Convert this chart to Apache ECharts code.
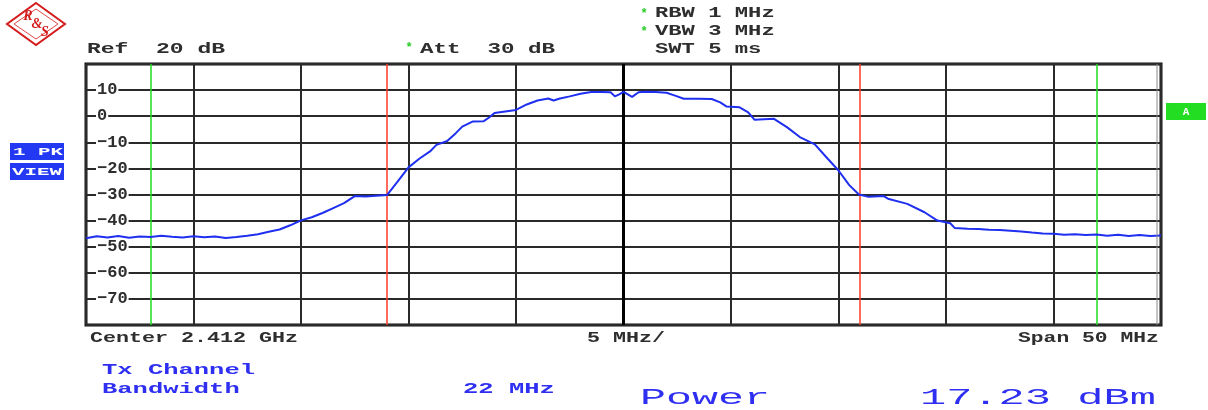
<!DOCTYPE html>
<html>
<head>
<meta charset="utf-8">
<script src="https://cdn.jsdelivr.net/npm/echarts@6/dist/echarts.min.js"></script>
<style>
html,body{margin:0;padding:0;background:#fff;}
#chart{width:1208px;height:410px;}
</style>
</head>
<body>
<div id="chart"></div>
<script>
// ---- data (frequency offset from centre in MHz, level in dBm) ----
const freqs = [-25.0,-24.5,-24.0,-23.5,-23.0,-22.5,-22.0,-21.5,-21.0,-20.5,-20.0,-19.5,-19.0,-18.5,-18.0,-17.5,-17.0,-16.5,-16.0,-15.5,-15.0,-14.5,-14.0,-13.5,-13.0,-12.5,-12.0,-11.5,-11.0,-10.5,-10.0,-9.5,-9.0,-8.7,-8.2,-7.8,-7.5,-7.0,-6.5,-6.25,-6.0,-5.5,-5.0,-4.5,-4.0,-3.5,-3.25,-3.0,-2.5,-2.0,-1.5,-1.0,-0.6,-0.4,-0.2,0.0,0.4,0.7,1.0,1.5,2.0,2.4,2.8,3.5,4.1,4.5,4.8,5.4,5.8,6.1,7.0,7.6,8.2,8.9,9.5,10.0,10.5,10.95,11.4,12.1,12.3,13.2,14.0,14.6,15.2,15.4,16.0,16.5,17.0,17.5,18.0,18.5,19.0,19.5,20.0,20.5,21.0,21.5,22.0,22.5,23.0,23.5,24.0,24.5,25.0];
const levels = [-46.8,-46.0,-46.5,-45.9,-46.6,-46.1,-46.3,-45.8,-46.2,-46.5,-46.0,-46.4,-46.1,-46.7,-46.3,-45.8,-45.2,-44.3,-43.4,-41.8,-39.9,-38.7,-37.1,-35.2,-33.3,-30.6,-30.8,-30.5,-30.2,-25.0,-19.6,-16.3,-13.5,-11.0,-9.5,-6.5,-4.0,-2.0,-1.9,-0.5,1.2,1.8,2.4,4.5,6.0,6.8,6.0,6.7,7.6,8.6,9.3,9.3,9.2,7.6,8.4,9.3,7.4,9.2,9.4,9.3,9.0,7.9,6.7,6.7,6.6,5.3,3.7,3.4,1.5,-1.4,-1.0,-4.2,-8.0,-10.8,-16.3,-20.8,-26.4,-30.0,-30.9,-30.6,-31.6,-33.6,-36.8,-40.0,-41.0,-42.8,-43.1,-43.2,-43.5,-43.6,-43.9,-44.2,-44.6,-44.9,-45.0,-45.4,-45.2,-45.5,-45.3,-45.8,-45.4,-45.9,-45.5,-45.9,-45.7];
const levelTicks = [10, 0, -10, -20, -30, -40, -50, -60, -70];
const channelEdges = [-11, 11];   // red lines (Tx channel 22 MHz)
const adjacentEdges = [-22, 22];  // green lines
const headerTexts = ['Ref  20 dB', 'Att  30 dB', 'RBW 1 MHz', 'VBW 3 MHz', 'SWT 5 ms'];
const footerTexts = ['Center 2.412 GHz', '5 MHz/', 'Span 50 MHz'];
const resultTexts = ['Tx Channel', 'Bandwidth', '22 MHz', 'Power', '17.23 dBm'];

const MONO = '"Liberation Mono", "DejaVu Sans Mono", monospace';
const DARK = '#2e2e2e';
const BLUE = '#2f2ff2';

function txt(str, x, y, pitch, size, weight, color) {
  return {
    type: 'text', x: x, y: y, z: 100,
    scaleX: pitch / (0.6 * size), originX: 0, originY: 0,
    style: { text: str, font: weight + ' ' + size + 'px ' + MONO, fill: color,
             textAlign: 'left', textVerticalAlign: 'middle' }
  };
}

const chart = echarts.init(document.getElementById('chart'), null, { renderer: 'canvas' });

const LOGO_FONT = 'italic bold 14px "Liberation Serif", serif';
const graphics = [
  // R&S logo
  { type: 'polygon', shape: { points: [[36,3],[65,24],[36,45],[7,24]] },
    style: { fill: 'none', stroke: '#d41c1c', lineWidth: 2 } },
  { type: 'polygon', shape: { points: [[36,9],[58,24],[36,39],[14,24]] },
    style: { fill: 'none', stroke: '#e04848', lineWidth: 1 } },
  { type: 'text', x: 28, y: 16, style: { text: 'R', font: LOGO_FONT, fill: '#d41c1c', textAlign: 'center', textVerticalAlign: 'middle' } },
  { type: 'text', x: 37, y: 24, style: { text: '&', font: LOGO_FONT, fill: '#d41c1c', textAlign: 'center', textVerticalAlign: 'middle' } },
  { type: 'text', x: 45, y: 32, style: { text: 'S', font: LOGO_FONT, fill: '#d41c1c', textAlign: 'center', textVerticalAlign: 'middle' } },

  // header
  txt(headerTexts[0], 87, 49, 13.8, 14, 'bold', DARK),
  { type: 'text', x: 409, y: 48, style: { text: '*', font: 'bold 12px ' + MONO, fill: '#22cc22', textAlign: 'center', textVerticalAlign: 'middle' } },
  txt(headerTexts[1], 420, 49, 13.5, 14, 'bold', DARK),
  { type: 'text', x: 644, y: 14, style: { text: '*', font: 'bold 12px ' + MONO, fill: '#22cc22', textAlign: 'center', textVerticalAlign: 'middle' } },
  txt(headerTexts[2], 655, 13, 13.3, 14, 'bold', DARK),
  { type: 'text', x: 644, y: 32, style: { text: '*', font: 'bold 12px ' + MONO, fill: '#22cc22', textAlign: 'center', textVerticalAlign: 'middle' } },
  txt(headerTexts[3], 655, 31, 13.3, 14, 'bold', DARK),
  txt(headerTexts[4], 655, 49, 13.3, 14, 'bold', DARK),

  // side boxes
  { type: 'rect', shape: { x: 10, y: 143, width: 54, height: 17 }, style: { fill: '#2238f2' } },
  txt('1 PK', 13, 152, 12.5, 11, 'bold', '#ffffff'),
  { type: 'rect', shape: { x: 10, y: 163, width: 54, height: 17 }, style: { fill: '#2238f2' } },
  txt('VIEW', 12, 172, 12.5, 11, 'bold', '#ffffff'),
  { type: 'rect', shape: { x: 1166, y: 103, width: 40, height: 17 }, style: { fill: '#22dd22' } },
  { type: 'text', x: 1186, y: 112, style: { text: 'A', font: 'bold 11px ' + MONO, fill: '#ffffff', textAlign: 'center', textVerticalAlign: 'middle' } },

  // footer
  txt(footerTexts[0], 90, 338, 13, 14, 'bold', DARK),
  txt(footerTexts[1], 587, 338, 13, 14, 'bold', DARK),
  txt(footerTexts[2], 1018, 338, 12.8, 14, 'bold', DARK),

  // results
  txt(resultTexts[0], 102, 370, 15.3, 14, 'bold', BLUE),
  txt(resultTexts[1], 102, 389, 15.3, 14, 'bold', BLUE),
  txt(resultTexts[2], 463, 389, 15.3, 14, 'bold', BLUE),
  txt(resultTexts[3], 640, 398, 26, 22, 'normal', BLUE),
  txt(resultTexts[4], 920, 398, 26.2, 22, 'normal', BLUE),

  // inner right frame line
  { type: 'line', shape: { x1: 1157, y1: 64, x2: 1157, y2: 325 }, style: { stroke: '#888', lineWidth: 1 }, z: 50 }
];

function vLine(x, color, width) {
  return { xAxis: x, lineStyle: { color: color, width: width, type: 'solid' } };
}

const option = {
  animation: false,
  backgroundColor: '#ffffff',
  grid: { left: 86, right: 47, top: 64, bottom: 85, show: true,
          borderColor: '#111', borderWidth: 3, backgroundColor: 'transparent' },
  xAxis: {
    type: 'value', min: -25, max: 25, interval: 5,
    axisLine: { show: false }, axisTick: { show: false }, axisLabel: { show: false },
    splitLine: { show: true, lineStyle: { color: '#2a2a2a', width: 2 } }
  },
  yAxis: {
    type: 'value', min: -80, max: 20, interval: 10,
    axisLine: { show: false }, axisTick: { show: false },
    splitLine: { show: true, lineStyle: { color: '#2a2a2a', width: 2 } },
    axisLabel: {
      show: true, inside: true, margin: 10,
      showMinLabel: false, showMaxLabel: false,
      fontFamily: MONO, fontWeight: 'bold', fontSize: 17, color: DARK,
      backgroundColor: '#ffffff', padding: [0, 1, 0, 1],
      formatter: function (v) {
        if (levelTicks.indexOf(v) < 0) return '';
        return String(v).replace('-', '\u2212');
      }
    },
    z: 3
  },
  graphic: graphics,
  series: [{
    type: 'line',
    data: freqs.map(function (f, i) { return [f, levels[i]]; }),
    symbol: 'none',
    lineStyle: { color: '#1f2ff0', width: 2 },
    z: 5,
    markLine: {
      silent: true, symbol: 'none', label: { show: false },
      data: [
        vLine(0, '#000000', 3),
        vLine(channelEdges[0], '#ff3a2a', 1.5),
        vLine(channelEdges[1], '#ff3a2a', 1.5),
        vLine(adjacentEdges[0], '#22dd22', 1.5),
        vLine(adjacentEdges[1], '#22dd22', 1.5)
      ]
    }
  }]
};
chart.setOption(option);
</script>
</body>
</html>
